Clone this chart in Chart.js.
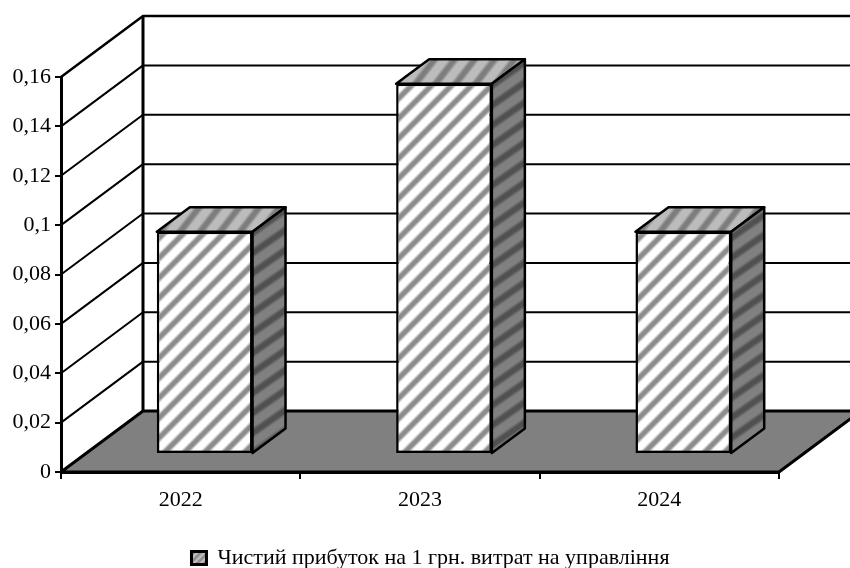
<!DOCTYPE html>
<html>
<head>
<meta charset="utf-8">
<style>
  html, body { margin: 0; padding: 0; background: #fff; }
  #wrap { width: 850px; height: 568px; }
</style>
<script src="https://cdn.jsdelivr.net/npm/chart.js@4/dist/chart.umd.min.js"></script>
</head>
<body>
<div id="wrap"><canvas id="chart" width="850" height="568"></canvas></div>
<script>
// Data
const years = ['2022', '2023', '2024'];
const profitPerHryvnia = [0.09, 0.15, 0.09];
const seriesName = 'Чистий прибуток на 1 грн. витрат на управління';
const yTickLabels = ['0', '0,02', '0,04', '0,06', '0,08', '0,1', '0,12', '0,14', '0,16'];

// Pseudo-3D projection offsets, in pixels
const WALL = { x: 82, y: -61 };
const BAR_SHIFT = { x: 24, y: -18 };
const BAR_DEPTH = { x: 33, y: -24.5 };
const FONT = '"Liberation Serif", "Times New Roman", serif';
const TEXT_SIZE = 22;

// Soft diagonal hatch tile, computed pixel by pixel so that it repeats seamlessly
function hatch(base, stripe, period, ctx, matrix) {
  const tile = document.createElement('canvas');
  tile.width = tile.height = period;
  const t = tile.getContext('2d');
  const img = t.createImageData(period, period);
  for (let y = 0; y < period; y++) {
    for (let x = 0; x < period; x++) {
      const d = Math.abs(((x + y) % period) - period / 2);
      const k = Math.max(0, Math.min(1, (period * 0.2 - d) / 4 + 0.5));
      const i = (y * period + x) * 4;
      for (let c = 0; c < 3; c++) img.data[i + c] = base + (stripe - base) * k;
      img.data[i + 3] = 255;
    }
  }
  t.putImageData(img, 0, 0);
  const pattern = ctx.createPattern(tile, 'repeat');
  if (matrix) pattern.setTransform(new DOMMatrix(matrix));
  return pattern;
}

const canvas = document.getElementById('chart');
const ctx2d = canvas.getContext('2d');
const frontFill = hatch(255, 140, 20, ctx2d);
// Side and top hatches are sheared so the stripes follow the faces
const sideFill = hatch(128, 80, 20, ctx2d, [1, 0.3, 0, 1, 0, 0]);
const topFill = hatch(188, 125, 20, ctx2d, [1, 0, 0.22, 1, 0, 0]);
const swatchFill = hatch(195, 120, 7, ctx2d);

function poly(ctx, pts, fill, lineWidth) {
  ctx.beginPath();
  pts.forEach((p, i) => (i ? ctx.lineTo(p[0], p[1]) : ctx.moveTo(p[0], p[1])));
  ctx.closePath();
  if (fill) { ctx.fillStyle = fill; ctx.fill(); }
  ctx.lineWidth = lineWidth;
  ctx.strokeStyle = '#000';
  ctx.lineJoin = 'round';
  ctx.stroke();
}

// Back wall, side wall and floor, positioned from the value scale
const roomPlugin = {
  id: 'room',
  beforeDatasetsDraw(chart) {
    const { ctx, chartArea: a, scales: { y } } = chart;
    const farRight = a.right + WALL.x;
    ctx.save();
    ctx.lineCap = 'butt';
    poly(ctx, [[a.left, a.bottom], [a.right, a.bottom], [farRight, a.bottom + WALL.y], [a.left + WALL.x, a.bottom + WALL.y]], '#808080', 3);
    y.ticks.forEach((tick) => {
      const py = y.getPixelForValue(tick.value);
      if (tick.value === 0) return;
      ctx.beginPath();
      ctx.moveTo(a.left, py);
      ctx.lineTo(a.left + WALL.x, py + WALL.y);
      ctx.lineTo(farRight, py + WALL.y);
      ctx.lineWidth = tick.value === y.max ? 2.5 : 2;
      ctx.strokeStyle = '#000';
      ctx.stroke();
    });
    ctx.beginPath();
    ctx.moveTo(a.left + WALL.x, a.top + WALL.y);
    ctx.lineTo(a.left + WALL.x, a.bottom + WALL.y);
    ctx.lineWidth = 3;
    ctx.stroke();
    ctx.restore();
  },
  // Top and side faces go underneath the front faces, which the library draws
  beforeDatasetDraw(chart, args) {
    const { ctx } = chart;
    const meta = chart.getDatasetMeta(args.index);
    ctx.save();
    ctx.translate(BAR_SHIFT.x, BAR_SHIFT.y);
    meta.data.forEach((bar) => {
      const l = bar.x - bar.width / 2;
      const r = bar.x + bar.width / 2;
      const t = bar.y;
      const b = bar.base;
      poly(ctx, [[l, t], [r, t], [r + BAR_DEPTH.x, t + BAR_DEPTH.y], [l + BAR_DEPTH.x, t + BAR_DEPTH.y]], topFill, 2.5);
      poly(ctx, [[r, t], [r + BAR_DEPTH.x, t + BAR_DEPTH.y], [r + BAR_DEPTH.x, b + BAR_DEPTH.y], [r, b]], sideFill, 2.5);
    });
  },
  afterDatasetDraw(chart) {
    chart.ctx.restore();
  }
};

new Chart(canvas, {
  type: 'bar',
  data: {
    labels: years,
    datasets: [{
      label: seriesName,
      data: profitPerHryvnia,
      backgroundColor: frontFill,
      borderColor: '#000',
      borderWidth: 2.5,
      borderSkipped: false,
      categoryPercentage: 0.4,
      barPercentage: 1,
      clip: false
    }]
  },
  options: {
    responsive: false,
    animation: false,
    devicePixelRatio: 1,
    layout: { padding: { left: 11, top: 77, right: 0, bottom: -11 } },
    plugins: {
      tooltip: { enabled: false },
      legend: {
        position: 'bottom',
        labels: {
          color: '#000',
          font: { family: FONT, size: TEXT_SIZE, lineHeight: 1 },
          boxWidth: 15,
          boxHeight: 13,
          padding: 0,
          generateLabels: () => [{
            text: seriesName,
            fillStyle: swatchFill,
            strokeStyle: '#000',
            lineWidth: 3,
            datasetIndex: 0
          }]
        }
      }
    },
    scales: {
      x: {
        offset: true,
        border: { display: true, color: '#000', width: 3 },
        grid: { drawOnChartArea: false, drawTicks: true, tickLength: 7, color: '#000', lineWidth: 2, offset: true },
        ticks: { color: '#000', font: { family: FONT, size: TEXT_SIZE }, padding: 8, maxRotation: 0 },
        afterFit(scale) { scale.height = scale.chart.height + 11 - 472 - scale.chart.legend.height; }
      },
      y: {
        min: 0,
        max: 0.16,
        position: 'left',
        border: { display: true, color: '#000', width: 3 },
        grid: { drawOnChartArea: false, drawTicks: true, tickLength: 6, color: '#000', lineWidth: 2 },
        ticks: {
          stepSize: 0.02,
          color: '#000',
          font: { family: FONT, size: TEXT_SIZE },
          padding: 4,
          callback: (value, index) => yTickLabels[index]
        },
        afterFit(scale) { scale.width = 50; }
      },
      // Empty axis reserving the strip on the right where the floor runs past the front edge
      gutter: {
        position: 'right',
        display: true,
        border: { display: false },
        grid: { display: false },
        ticks: { display: false },
        afterFit(scale) { scale.width = 71; }
      }
    }
  },
  plugins: [roomPlugin]
});
</script>
</body>
</html>
